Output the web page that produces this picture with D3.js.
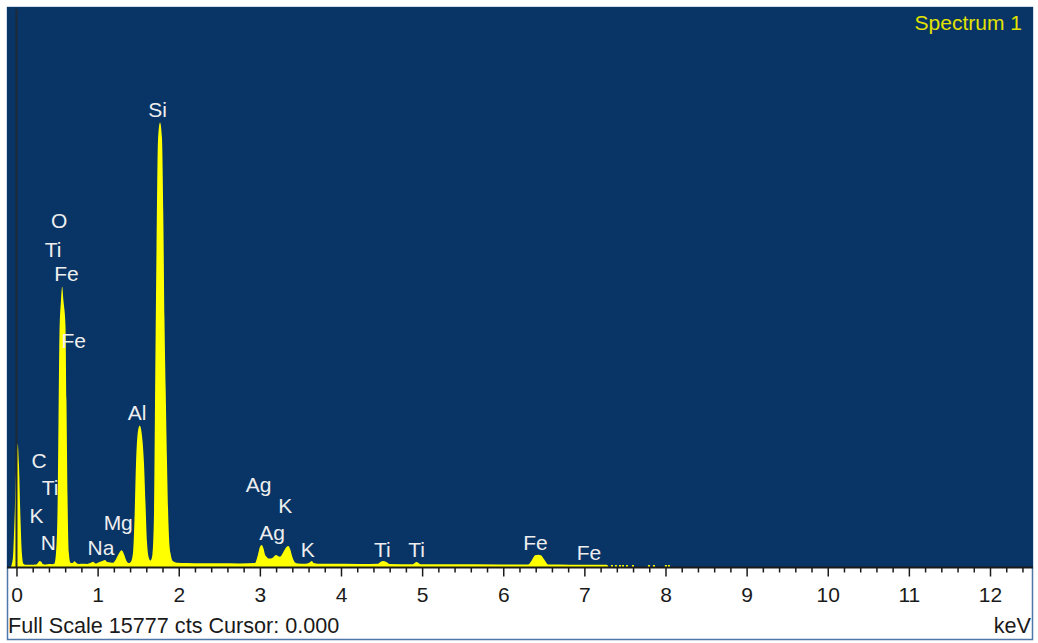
<!DOCTYPE html>
<html>
<head>
<meta charset="utf-8">
<script src="https://cdn.jsdelivr.net/npm/d3@7"></script>
<style>
  html, body { margin: 0; padding: 0; background: #ffffff; }
  svg { display: block; }
  text { font-family: "Liberation Sans", Arial, sans-serif; }
</style>
</head>
<body>
<svg id="chart" width="1038" height="643"></svg>
<script>
// EDS spectrum: energy (keV) against counts
const spectrumName = "Spectrum 1";
const axisUnit = "keV";
const fullScaleCounts = 15777;
const cursorKeV = 0;

const spectrumKeV = [
  -0.070, -0.045, -0.025, 0.000, 0.015, 0.030, 0.050, 0.068, 0.085, 0.110,
  0.160, 0.210, 0.245, 0.265, 0.285, 0.305, 0.325, 0.360, 0.400, 0.440,
  0.468, 0.487, 0.505, 0.518, 0.530, 0.548, 0.563, 0.579, 0.604, 0.616,
  0.629, 0.645, 0.666, 0.690, 0.715, 0.735, 0.770, 0.820, 0.870, 0.910,
  0.945, 0.975, 1.010, 1.050, 1.090, 1.120, 1.160, 1.190, 1.226, 1.263,
  1.297, 1.325, 1.356, 1.387, 1.411, 1.436, 1.454, 1.473, 1.491, 1.519,
  1.547, 1.572, 1.590, 1.609, 1.633, 1.652, 1.676, 1.695, 1.707, 1.726,
  1.744, 1.769, 1.793, 1.809, 1.824, 1.839, 1.855, 1.874, 1.898, 1.929,
  1.978, 2.100, 2.300, 2.500, 2.750, 2.940, 2.977, 3.000, 3.022, 3.045,
  3.063, 3.085, 3.105, 3.150, 3.198, 3.248, 3.297, 3.328, 3.350, 3.377,
  3.396, 3.433, 3.470, 3.556, 3.615, 3.639, 3.665, 3.716, 3.864, 4.234,
  4.455, 4.490, 4.517, 4.560, 4.600, 4.887, 4.931, 4.980, 5.343, 5.960,
  6.305, 6.354, 6.391, 6.432, 6.465, 6.505, 6.554, 6.822, 7.192, 7.278,
  7.297
];
const spectrumCounts = [
  0, 250, 1300, 3000, 3480, 2900, 1300, 350, 90, 60,
  60, 65, 70, 120, 170, 150, 85, 70, 85, 80,
  100, 400, 1500, 4200, 6600, 7500, 7900, 7500, 6800, 4700,
  2000, 400, 120, 110, 160, 120, 85, 90, 85, 110,
  150, 100, 130, 160, 200, 140, 130, 120, 220, 380,
  470, 360, 170, 110, 150, 400, 1300, 2900, 3700, 3990,
  3700, 2900, 1800, 700, 250, 180, 350, 1500, 4500, 9000,
  12000, 12520, 12100, 10000, 7000, 5000, 3000, 1200, 400, 160,
  120, 110, 105, 105, 100, 110, 350, 560, 620, 520,
  350, 280, 240, 250, 340, 290, 450, 560, 590, 480,
  320, 130, 100, 95, 130, 170, 110, 90, 90, 85,
  90, 150, 170, 140, 85, 80, 140, 80, 75, 70,
  70, 200, 330, 345, 330, 210, 70, 65, 60, 60,
  0
];

// isolated single-channel counts beyond the continuum
const speckKeV = [7.340, 7.389, 7.439, 7.476, 7.525, 7.599, 7.796, 7.858, 8.005, 8.042];
const speckCounts = [55, 55, 55, 55, 55, 55, 55, 55, 55, 55];
const speckWidthKeV = 0.025;

// element line labels: text, line energy, label height in counts
const lineLabels = ["Si", "O", "Ti", "Fe", "Fe", "Al", "C", "Ti", "K", "N", "Mg", "Na",
                    "Ag", "K", "Ag", "K", "Ti", "Ti", "Fe", "Fe"];
const lineKeV = [1.740, 0.525, 0.452, 0.615, 0.705, 1.487, 0.277, 0.413, 0.247, 0.394, 1.254, 1.041,
                 2.984, 3.313, 3.151, 3.590, 4.510, 4.931, 6.398, 7.057];
const lineLabelCounts = [12677, 9550, 8733, 8057, 6169, 4141, 2789, 2028, 1239, 479, 1042, 338,
                         2113, 1521, 761, 282, 282, 282, 479, 197];

const majorTicks = [0, 1, 2, 3, 4, 5, 6, 7, 8, 9, 10, 11, 12];
const minorTicks = d3.range(0, 63).map(i => i / 5).filter(v => !Number.isInteger(v));

// layout
const frame = { left: 7, top: 7, right: 1033, bottom: 640 };
const plotBottom = 567;
const colors = {
  panel: "#083466",
  frameStroke: "#4f77a8",
  spectrum: "#ffff00",
  title: "#e2e200",
  lineLabel: "#eeeeee",
  axis: "#1a1a1a",
  tickText: "#1a1a1a",
  cursor: "#1f2a36"
};

const svg = d3.select("#chart");

const x = d3.scaleLinear().domain([-0.117, 12.53]).range([frame.left, frame.right]);
const y = d3.scaleLinear().domain([0, fullScaleCounts]).range([plotBottom, frame.top]);

// outer frame and status area
svg.append("rect")
  .attr("x", frame.left + 0.5).attr("y", frame.top + 0.5)
  .attr("width", frame.right - frame.left - 1).attr("height", frame.bottom - frame.top - 1)
  .attr("fill", "#ffffff").attr("stroke", colors.frameStroke).attr("stroke-width", 1.5);

// spectrum panel
svg.append("rect")
  .attr("x", frame.left).attr("y", frame.top)
  .attr("width", frame.right - frame.left).attr("height", plotBottom - frame.top)
  .attr("fill", colors.panel);

const spectrum = spectrumKeV.map((k, i) => ({ keV: k, counts: spectrumCounts[i] }));

const area = d3.area()
  .x(d => x(d.keV))
  .y0(y(0))
  .y1(d => y(d.counts))
  .curve(d3.curveMonotoneX);

svg.append("path")
  .datum(spectrum)
  .attr("d", area)
  .attr("fill", colors.spectrum);

svg.append("g").selectAll("rect")
  .data(speckKeV.map((k, i) => ({ keV: k, counts: speckCounts[i] })))
  .join("rect")
  .attr("x", d => x(d.keV - speckWidthKeV / 2))
  .attr("width", d => x(d.keV + speckWidthKeV / 2) - x(d.keV - speckWidthKeV / 2))
  .attr("y", d => y(d.counts))
  .attr("height", d => y(0) - y(d.counts))
  .attr("fill", colors.spectrum);

// cursor
svg.append("line")
  .attr("x1", x(cursorKeV)).attr("x2", x(cursorKeV))
  .attr("y1", frame.top + 2).attr("y2", plotBottom)
  .attr("stroke", colors.cursor).attr("stroke-width", 2);

// element labels
svg.append("g").selectAll("text")
  .data(lineLabels.map((t, i) => ({ text: t, keV: lineKeV[i], counts: lineLabelCounts[i] })))
  .join("text")
  .attr("x", d => x(d.keV))
  .attr("y", d => y(d.counts))
  .attr("text-anchor", "middle")
  .attr("font-size", 21)
  .attr("fill", colors.lineLabel)
  .text(d => d.text);

// spectrum name
svg.append("text")
  .attr("x", frame.right - 11).attr("y", 30)
  .attr("text-anchor", "end")
  .attr("font-size", 21)
  .attr("fill", colors.title)
  .text(spectrumName);

// energy axis
const minorAxis = d3.axisBottom(x).tickValues(minorTicks).tickSize(5).tickSizeOuter(0).tickFormat("");
const majorAxis = d3.axisBottom(x).tickValues(majorTicks).tickSize(9).tickSizeOuter(0)
  .tickPadding(11).tickFormat(d3.format("d"));

const gMinor = svg.append("g").attr("transform", `translate(0,${plotBottom + 0.5})`).call(minorAxis);
const gMajor = svg.append("g").attr("transform", `translate(0,${plotBottom + 0.5})`).call(majorAxis);
[gMinor, gMajor].forEach(g => {
  g.select(".domain").remove();
  g.selectAll(".tick line").attr("stroke", colors.axis).attr("stroke-width", 1.5);
});
gMajor.selectAll(".tick text")
  .attr("font-size", 21)
  .attr("font-family", '"Liberation Sans", Arial, sans-serif')
  .attr("fill", colors.tickText);

svg.append("line")
  .attr("x1", frame.left).attr("x2", frame.right)
  .attr("y1", plotBottom + 0.5).attr("y2", plotBottom + 0.5)
  .attr("stroke", colors.axis).attr("stroke-width", 2);

// status line
svg.append("text")
  .attr("x", frame.left + 1).attr("y", 633)
  .attr("font-size", 21.6)
  .attr("fill", colors.tickText)
  .text(`Full Scale ${fullScaleCounts} cts Cursor: ${cursorKeV.toFixed(3)}`);

svg.append("text")
  .attr("x", frame.right - 2).attr("y", 633)
  .attr("text-anchor", "end")
  .attr("font-size", 21.6)
  .attr("fill", colors.tickText)
  .text(axisUnit);
</script>
</body>
</html>
